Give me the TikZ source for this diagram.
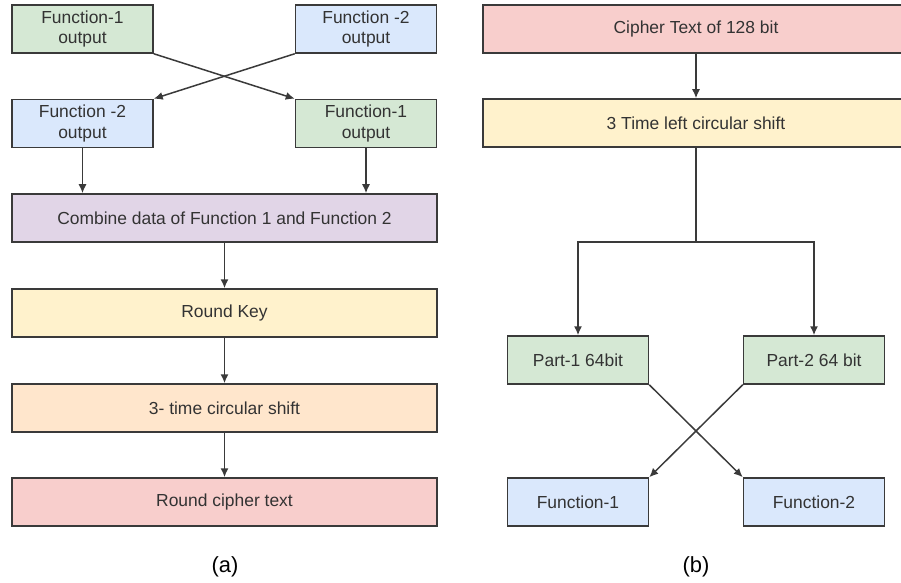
\documentclass[tikz,border=0pt]{standalone}
\usepackage{fontspec}
\setmainfont{Liberation Sans}
\usetikzlibrary{arrows.meta}
\definecolor{cgreen}{HTML}{D5E8D4}
\definecolor{cblue}{HTML}{DAE8FC}
\definecolor{cpurple}{HTML}{E1D5E7}
\definecolor{cyellow}{HTML}{FFF2CC}
\definecolor{corange}{HTML}{FFE6CC}
\definecolor{cred}{HTML}{F8CECC}
\definecolor{cline}{HTML}{3A3A3A}
\definecolor{ctext}{HTML}{333333}
\begin{document}
\begin{tikzpicture}[x=1bp,y=-1bp,
  box/.style={draw=cline,line width=1.5bp,rectangle,inner sep=0pt,
    minimum height=48bp,text=ctext,font=\fontsize{17.5}{21}\selectfont,align=center},
  small/.style={box,minimum width=141bp},
  wide/.style={box,minimum width=425bp},
  arr/.style={draw=cline,line width=1.5bp,-{Latex[length=9bp,width=8bp]}},
  sublabel/.style={font=\fontsize{22}{26}\selectfont,text=black}]
\useasboundingbox (0,0) rectangle (901,583);
\clip (0,0) rectangle (901,583);
% (a)
\node[small,fill=cgreen] (f1a) at (82.5,29) {Function-1\\output};
\node[small,fill=cblue] (f2a) at (366,29) {Function -2\\output};
\node[small,fill=cblue] (f2b) at (82.5,123.5) {Function -2\\output};
\node[small,fill=cgreen] (f1b) at (366,123.5) {Function-1\\output};
\node[wide,fill=cpurple] (comb) at (224.5,218) {Combine data of Function 1 and Function 2};
\node[wide,fill=cyellow] (rk) at (224.5,313) {Round Key};
\node[wide,fill=corange] (cs) at (224.5,408) {3- time circular shift};
\node[wide,fill=cred] (rc) at (224.5,502) {Round cipher text};
\node[sublabel] (la) at (225,567) {(a)};
\draw[arr] (f1a.south east) -- (f1b.north west);
\draw[arr] (f2a.south west) -- (f2b.north east);
\draw[arr] (f2b.south) -- (f2b.south |- comb.north);
\draw[arr] (f1b.south) -- (f1b.south |- comb.north);
\draw[arr] (comb) -- (rk);
\draw[arr] (rk) -- (cs);
\draw[arr] (cs) -- (rc);
% (b)
\node[box,minimum width=426bp,fill=cred] (ct) at (696,29) {Cipher Text of 128 bit};
\node[box,minimum width=426bp,fill=cyellow] (ls) at (696,123) {3 Time left circular shift};
\node[small,fill=cgreen] (p1) at (578,360) {Part-1 64bit};
\node[small,fill=cgreen] (p2) at (814,360) {Part-2 64 bit};
\node[small,fill=cblue] (fn1) at (578,502) {Function-1};
\node[small,fill=cblue] (fn2) at (814,502) {Function-2};
\node[sublabel] (lb) at (696,567) {(b)};
\coordinate (j) at (696,242);
\draw[arr] (ct) -- (ls);
\draw[draw=cline,line width=1.5bp] (ls.south) -- (j);
\draw[arr] (j) -| (p1.north);
\draw[arr] (j) -| (p2.north);
\draw[arr] (p1.south east) -- (fn2.north west);
\draw[arr] (p2.south west) -- (fn1.north east);
\end{tikzpicture}
\end{document}
